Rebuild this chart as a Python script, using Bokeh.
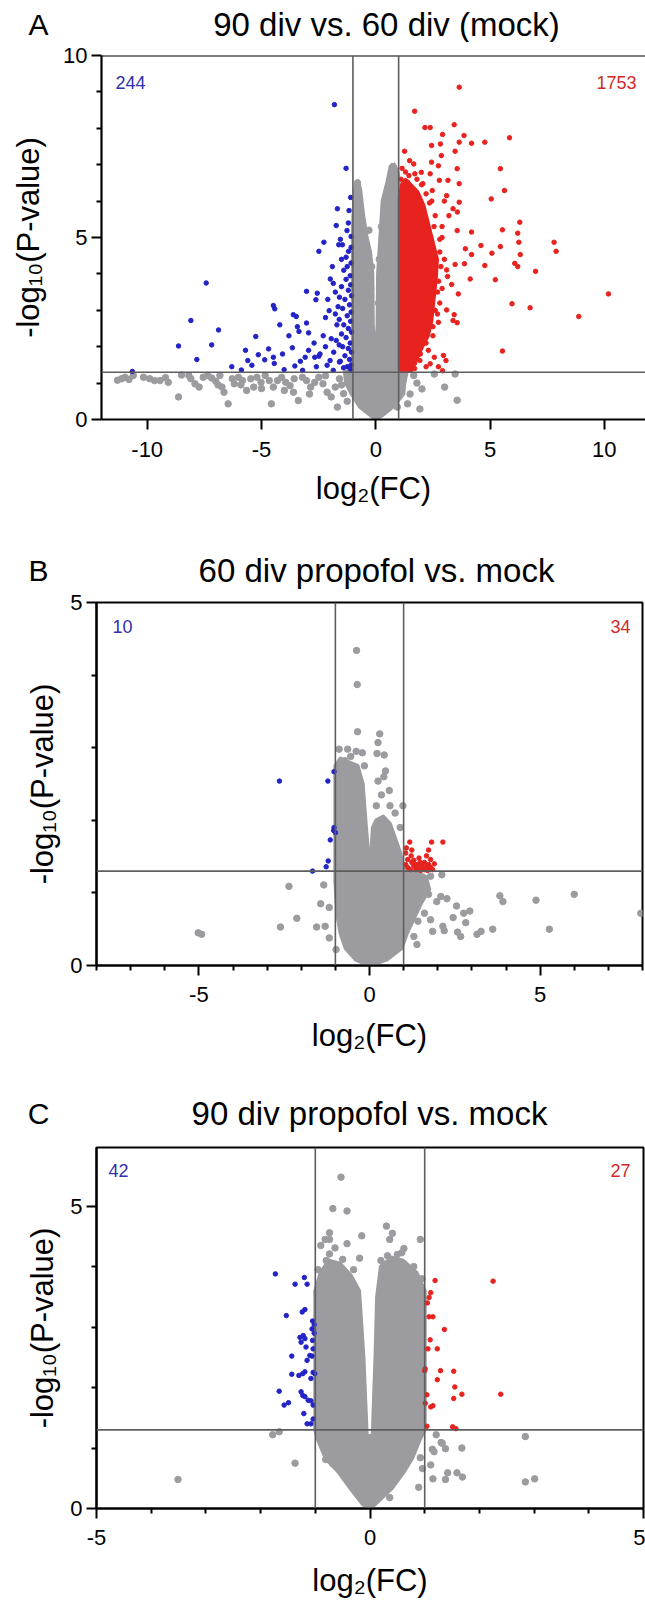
from math import pi
from bokeh.plotting import figure
from bokeh.models import FixedTicker, Span, Label, Range1d
from bokeh.layouts import column
from bokeh.embed import file_html
from bokeh.resources import INLINE

FONT = "Liberation Sans"
GRAY = "#9c9ca0"
RED = "#e8221f"
BLUE = "#2323c6"
LINE = "#5e5e5e"
BLUE_TXT = "#2f2fae"
RED_TXT = "#cf2a2a"

X_LABEL = "log\u2082(FC)"
Y_LABEL = "-log\u2081\u2080(P-value)"

# ---------------- Panel A : 90 div vs. 60 div (mock) ----------------
a_letter = "A"
a_title = "90 div vs. 60 div (mock)"
a_n_down = "244"
a_n_up = "1753"
a_xticks = [-10, -5, 0, 5, 10]
a_xminor = []
a_yticks = [0, 5, 10]
a_yminor = [1, 2, 3, 4, 6, 7, 8, 9]
a_core_gray_x = [0.0, -0.3, -0.7, -1.05, -1.3, -1.35, -1.0, -1.0, -0.95, -0.88, -0.78, -0.68, -0.55, -0.4, -0.25,
                 -0.15, -0.13, -0.05, 0.05, 0.08, 0.1, 0.2, 0.3, 0.5, 0.65, 0.8, 0.95, 1.0, 1.0, 1.35, 1.25, 1.2,
                 0.75, 0.35, 0.0]
a_core_gray_y = [0.0, 0.15, 0.35, 0.7, 1.0, 1.3, 1.35, 5.3, 5.9, 6.4, 6.55, 6.3, 5.6, 5.0, 4.6,
                 4.0, 2.6, 1.9, 1.9, 2.6, 4.0, 5.0, 6.0, 6.5, 6.95, 7.0, 6.8, 6.5, 1.35, 1.3, 1.0, 0.7,
                 0.35, 0.15, 0.0]
a_core_red_x = [1.03, 1.03, 1.12, 1.3, 1.55, 1.85, 2.1, 2.3, 2.5, 2.7, 2.65, 2.55, 2.45, 2.3, 2.05, 1.8, 1.55, 1.03]
a_core_red_y = [1.32, 6.1, 6.45, 6.6, 6.45, 6.25, 5.9, 5.4, 4.9, 4.4, 3.9, 3.3, 2.7, 2.3, 2.0, 1.65, 1.32, 1.32]
a_gray_pts = [
    (-11.3, 1.08), (-11.12, 1.12), (-10.97, 1.16), (-10.8, 1.10), (-10.61, 1.21), (-10.16, 1.16), (-9.89, 1.12),
    (-9.68, 1.07), (-9.44, 1.07), (-9.2, 1.15), (-9.08, 1.02), (-8.63, 0.62), (-8.5, 1.22), (-8.18, 1.21),
    (-8.09, 1.12), (-7.91, 0.98), (-7.73, 0.89), (-7.55, 1.16), (-7.36, 1.21), (-7.18, 1.14), (-7.0, 1.05),
    (-6.9, 0.95), (-6.82, 1.21), (-6.73, 0.89), (-6.64, 0.75), (-6.46, 0.43), (-6.28, 1.12), (-6.19, 0.98),
    (-6.01, 1.16), (-5.9, 0.95), (-5.83, 1.07), (-5.65, 0.80), (-5.47, 1.12), (-5.34, 0.89), (-5.2, 1.16),
    (-5.02, 1.02), (-5.0, 0.85), (-4.84, 1.21), (-4.66, 1.07), (-4.57, 0.43), (-4.48, 0.89), (-4.3, 1.07),
    (-4.12, 1.16), (-4.0, 0.80), (-3.94, 1.02), (-3.75, 0.93), (-3.6, 0.75), (-3.57, 1.12), (-3.39, 0.52),
    (-3.21, 1.16), (-3.03, 1.07), (-2.9, 0.70), (-2.85, 0.89), (-2.67, 1.02), (-2.49, 1.16), (-2.31, 0.98),
    (-2.2, 1.2), (-2.13, 0.75), (-1.95, 0.62), (-1.77, 0.89), (-1.68, 0.34), (-1.59, 1.12), (-1.5, 0.95),
    (-1.41, 0.71), (-1.25, 0.5),
    (1.21, 1.16), (1.66, 1.21), (2.02, 0.84), (2.56, 1.25), (3.01, 0.89), (3.47, 1.25), (3.56, 0.53),
    (1.39, 0.43), (1.93, 0.29), (0.94, 0.34), (1.5, 0.7), (1.1, 0.9), (1.8, 1.0),
    (-0.8, 6.5), (-0.85, 6.2), (-0.75, 5.9), (-0.9, 5.6), (-0.6, 5.3), (0.75, 6.95), (0.82, 6.75),
    (0.95, 6.6), (0.6, 6.45), (0.45, 6.1), (0.35, 5.7), (-0.18, 4.2), (-0.22, 3.6), (0.12, 3.2),
    (0.15, 4.4), (-0.3, 5.2), (0.25, 5.3),
]
a_blue_pts = [
    (-1.81, 8.65), (-1.30, 6.9), (-1.68, 5.79), (-1.17, 5.74), (-1.73, 5.33), (-1.26, 5.19), (-1.08, 5.03),
    (-2.27, 4.87), (-1.62, 4.80), (-1.46, 4.80), (-1.08, 4.73), (-2.49, 4.62), (-1.19, 4.62), (-1.30, 4.46),
    (-7.42, 3.75), (-8.09, 2.72), (-6.88, 2.46), (-7.18, 2.05), (-8.63, 2.02), (-7.83, 1.65), (-10.65, 1.32),
    (-3.03, 3.52), (-2.56, 3.47), (-2.62, 3.29), (-4.48, 3.13), (-4.42, 3.04), (-3.61, 2.88), (-3.48, 2.83),
    (-3.03, 2.65), (-3.43, 2.55), (-3.36, 2.42), (-2.94, 2.38), (-5.25, 2.28), (-3.65, 1.97), (-2.94, 1.90),
    (-2.49, 1.74), (-4.69, 1.94), (-5.14, 1.78), (-5.6, 1.62), (-4.08, 1.80), (-4.48, 1.71), (-4.86, 1.64),
    (-5.42, 1.49), (-5.88, 1.36), (-4.44, 1.54), (-4.01, 1.37), (-3.54, 1.47), (-3.09, 1.71), (-2.67, 1.71),
    (-2.44, 1.80), (-2.13, 1.49), (-1.99, 3.86), (-1.86, 3.74), (-1.77, 3.50), (-1.59, 3.36), (-2.04, 2.99),
    (-1.77, 2.90), (-1.95, 2.22), (-1.73, 2.17), (-1.84, 1.85), (-2.0, 1.62), (-1.59, 1.58), (-1.41, 1.42),
    (-1.86, 1.35), (-1.08, 4.3), (-1.25, 4.2), (-1.4, 4.1), (-1.12, 3.95), (-1.3, 3.85), (-1.1, 3.7),
    (-1.5, 3.65), (-1.2, 3.55), (-1.06, 3.4), (-1.35, 3.3), (-1.15, 3.15), (-1.45, 3.05), (-1.08, 2.95),
    (-1.25, 2.85), (-1.6, 2.75), (-1.1, 2.7), (-1.4, 2.6), (-1.2, 2.5), (-1.06, 2.4), (-1.5, 2.35),
    (-1.3, 2.25), (-1.12, 2.1), (-1.45, 2.0), (-1.2, 1.95), (-1.06, 1.85), (-1.35, 1.75), (-1.15, 1.65),
    (-1.55, 1.6), (-1.08, 1.5), (-1.25, 1.45), (-1.1, 1.38), (-1.6, 2.05), (-1.7, 2.6), (-1.65, 3.1),
    (-2.2, 2.8), (-2.3, 2.3), (-2.1, 3.3), (-1.9, 4.2), (-1.5, 4.4), (-1.2, 5.4), (-1.1, 6.1),
    (-1.55, 4.95), (-2.7, 2.1), (-2.2, 2.0), (-3.3, 1.6), (-3.8, 2.3), (-4.2, 2.6), (-5.7, 1.9),
    (-6.3, 1.45), (-3.2, 1.35), (-2.6, 1.45),
]
a_red_pts = [
    (3.65, 9.13), (1.70, 8.47), (2.15, 8.02), (2.38, 8.02), (3.43, 8.10), (2.92, 7.83), (3.86, 7.80),
    (5.85, 7.74), (2.44, 7.53), (2.83, 7.57), (3.65, 7.62), (4.19, 7.59), (4.77, 7.62), (1.26, 7.37),
    (3.47, 7.37), (2.87, 7.25), (1.48, 7.11), (2.44, 7.07), (1.66, 7.02), (1.99, 6.79), (2.74, 6.97),
    (3.56, 6.89), (5.45, 6.89), (1.71, 6.75), (2.38, 6.75), (1.39, 6.52), (2.06, 6.48), (2.78, 6.57),
    (3.16, 6.57), (3.65, 6.48), (2.47, 6.29), (5.63, 6.29), (5.05, 6.06), (3.10, 6.15), (3.65, 5.97),
    (3.38, 5.79), (3.57, 5.70), (6.30, 5.42), (5.54, 5.21), (4.19, 5.15), (3.56, 5.19), (6.21, 5.12),
    (7.80, 4.87), (4.60, 4.78), (5.45, 4.75), (6.26, 4.87), (5.08, 4.57), (6.32, 4.53), (7.89, 4.62),
    (4.19, 4.53), (3.92, 4.69), (3.47, 4.26), (3.88, 4.28), (4.77, 4.23), (6.08, 4.29), (6.21, 4.20),
    (6.99, 4.07), (3.10, 4.11), (3.14, 3.93), (4.13, 3.86), (5.23, 3.84), (3.32, 3.71), (3.61, 3.45),
    (10.18, 3.45), (5.96, 3.18), (6.75, 3.07), (8.88, 2.83), (3.10, 3.01), (3.43, 2.88), (3.38, 2.72),
    (3.56, 2.66), (2.74, 2.67), (5.54, 1.88), (2.96, 1.76), (3.07, 1.62), (2.56, 1.71), (2.74, 1.45),
    (2.92, 1.34), (2.38, 1.53), (1.93, 1.62), (2.9, 5.0), (2.8, 4.6), (3.0, 4.4), (2.6, 5.6), (2.9, 5.3),
    (2.45, 6.0), (1.1, 6.6), (1.3, 6.8), (1.8, 6.6), (2.2, 6.2), (2.9, 3.6), (2.8, 3.2), (2.7, 2.9),
    (2.5, 2.3), (2.3, 1.9), (2.2, 1.45), (1.7, 1.4), (3.2, 5.6), (3.0, 6.0), (2.6, 4.0), (2.75, 3.8),
    (1.15, 6.9), (1.45, 6.7), (2.0, 6.45), (2.35, 5.95), (2.55, 5.3), (2.8, 4.95), (2.85, 4.2), (2.7, 3.5),
    (2.6, 3.0), (2.5, 2.55), (2.2, 2.1), (1.95, 1.8), (1.7, 1.55),
]

# ---------------- Panel B : 60 div propofol vs. mock ----------------
b_letter = "B"
b_title = "60 div propofol vs. mock"
b_n_down = "10"
b_n_up = "34"
b_xticks = [-5, 0, 5]
b_xminor = [-8, -7, -6, -4, -3, -2, -1, 1, 2, 3, 4, 6, 7, 8]
b_yticks = [0, 5]
b_yminor = [1, 2, 3, 4]
b_core_gray_x = [0.0, -0.4, -0.7, -0.85, -0.94, -1.0, -1.0, -0.85, -0.6, -0.35, -0.2, -0.12, -0.05, 0.06, 0.1,
                 0.2, 0.4, 0.6, 0.75, 0.9, 1.0, 1.4, 1.65, 1.75, 1.5, 1.35, 1.1, 0.94, 0.5, 0.0]
b_core_gray_y = [0.0, 0.08, 0.24, 0.45, 0.7, 1.16, 2.75, 2.85, 2.8, 2.75, 2.5, 2.0, 1.6, 1.6, 1.9,
                 2.0, 2.05, 1.95, 1.75, 1.55, 1.3, 1.28, 1.22, 1.05, 0.85, 0.7, 0.45, 0.24, 0.08, 0.0]
b_gray_pts = [
    (-0.38, 4.34), (-0.36, 3.87), (-0.35, 3.22), (0.30, 3.19), (0.25, 3.07), (-0.89, 2.98), (-0.64, 2.98),
    (-0.39, 2.95), (-0.21, 2.93), (0.22, 2.92), (0.43, 2.90), (-0.72, 2.82), (0.47, 2.68), (0.42, 2.60),
    (-0.94, 2.60), (0.25, 2.54), (0.58, 2.41), (0.98, 2.20), (-0.55, 2.88), (-0.15, 2.75), (0.35, 2.35),
    (0.75, 2.10), (0.9, 1.9), (0.2, 2.2), (0.6, 2.2),
    (-5.02, 0.45), (-4.92, 0.43), (-2.61, 0.53), (-2.13, 0.65), (-2.36, 1.09), (-1.34, 1.11), (-1.43, 0.85),
    (-1.55, 0.53), (-1.30, 0.54), (-1.18, 0.80), (-1.18, 0.38), (-0.98, 0.22), (1.73, 0.98), (1.97, 0.88),
    (2.09, 0.95), (2.27, 0.92), (1.85, 0.47), (1.79, 0.63), (1.61, 0.72), (2.15, 0.54), (2.19, 0.48),
    (2.45, 0.66), (2.55, 0.82), (2.76, 0.72), (2.94, 0.75), (2.82, 0.59), (2.58, 0.46), (2.67, 0.40),
    (3.15, 0.43), (3.27, 0.47), (3.61, 0.50), (3.82, 0.96), (3.91, 0.88), (4.88, 0.90), (5.27, 0.50),
    (6.0, 0.98), (7.95, 0.72), (1.42, 0.61), (1.39, 0.29), (1.79, 1.23), (2.12, 1.25), (1.5, 1.0), (1.3, 0.4),
]
b_blue_pts = [
    (-2.64, 2.54), (-1.22, 2.54), (-1.04, 2.67), (-1.04, 1.90), (-1.0, 1.83), (-1.15, 1.73), (-1.21, 1.44),
    (-1.27, 1.36), (-1.67, 1.30), (-1.05, 1.86),
]
b_red_pts = [
    (1.18, 1.70), (1.24, 1.59), (1.22, 1.51), (1.12, 1.46), (1.24, 1.42), (1.36, 1.39), (1.48, 1.42),
    (1.61, 1.42), (1.73, 1.39), (1.79, 1.46), (1.67, 1.51), (1.73, 1.59), (1.82, 1.70), (2.15, 1.70),
    (1.06, 1.39), (1.30, 1.37), (1.42, 1.37), (1.55, 1.39), (1.67, 1.35), (1.79, 1.35), (1.85, 1.32),
    (1.61, 1.32), (1.36, 1.32), (1.12, 1.35), (1.06, 1.55), (1.3, 1.45), (1.45, 1.48), (1.55, 1.34),
    (1.9, 1.4), (1.08, 1.62), (1.4, 1.34), (1.2, 1.32), (1.5, 1.31), (1.7, 1.31),
]

# ---------------- Panel C : 90 div propofol vs. mock ----------------
c_letter = "C"
c_title = "90 div propofol vs. mock"
c_n_down = "42"
c_n_up = "27"
c_xticks = [-5, 0, 5]
c_xminor = [-4, -3, -2, -1, 1, 2, 3, 4]
c_yticks = [0, 5]
c_yminor = [1, 2, 3, 4]
c_core_gray_x = [0.0, -0.13, -0.36, -0.58, -0.81, -0.96, -1.0, -1.0, -0.9, -0.75, -0.55, -0.35, -0.2, -0.12, -0.06,
                 0.05, 0.1, 0.13, 0.2, 0.4, 0.6, 0.85, 1.0, 1.0, 0.92, 0.77, 0.62, 0.4, 0.09, 0.0]
c_core_gray_y = [0.0, 0.07, 0.34, 0.61, 0.83, 1.16, 1.3, 3.6, 3.9, 4.1, 4.05, 3.85, 3.6, 2.5, 1.2,
                 1.2, 2.5, 3.5, 4.0, 4.15, 4.1, 3.9, 3.6, 1.3, 1.16, 0.83, 0.61, 0.34, 0.07, 0.0]
c_gray_pts = [
    (-0.53, 5.48), (-0.68, 4.96), (-0.42, 4.92), (-0.74, 4.56), (-0.82, 4.45), (-0.74, 4.45), (-0.90, 4.35),
    (-0.64, 4.31), (-0.42, 4.38), (-0.15, 4.51), (0.30, 4.67), (0.41, 4.55), (0.36, 4.45), (0.92, 4.45),
    (0.62, 4.30), (0.58, 4.23), (0.32, 4.18), (-0.19, 4.14), (-0.74, 4.21), (-0.95, 3.95), (-0.8, 4.1),
    (-0.5, 4.12), (0.2, 4.1), (0.5, 4.2), (0.8, 4.0), (0.95, 3.8), (-0.3, 3.95),
    (-1.78, 1.22), (-1.66, 1.27), (1.21, 1.22), (1.30, 1.09), (1.14, 0.98), (1.38, 0.99), (1.68, 1.00),
    (2.84, 1.19), (-3.51, 0.48), (-1.37, 0.75), (-0.81, 0.81), (-0.68, 0.74), (1.32, 1.08), (1.17, 0.94),
    (1.11, 0.72), (1.15, 0.49), (1.38, 0.48), (1.59, 0.59), (1.69, 0.52), (1.42, 0.59), (0.96, 0.66),
    (0.89, 0.35), (2.84, 0.44), (3.01, 0.49), (0.92, 0.84), (0.36, 0.18),
]
c_blue_pts = [
    (-1.73, 3.88), (-1.20, 3.82), (-1.37, 3.71), (-1.15, 3.71), (-1.19, 3.29), (-1.24, 3.25), (-1.53, 3.19),
    (-1.02, 3.04), (-1.06, 2.97), (-1.28, 2.83), (-1.22, 2.86), (-1.19, 2.81), (-1.05, 2.78), (-1.26, 2.75),
    (-1.17, 2.67), (-1.04, 2.64), (-1.43, 2.52), (-1.06, 2.52), (-1.15, 2.45), (-1.10, 2.53), (-1.19, 2.26),
    (-1.23, 2.23), (-1.43, 2.22), (-1.04, 2.25), (-1.08, 2.15), (-1.01, 2.23), (-1.66, 1.94), (-1.26, 1.93),
    (-1.23, 1.87), (-1.19, 1.85), (-1.13, 1.79), (-1.08, 1.78), (-1.04, 1.71), (-1.49, 1.75), (-1.57, 1.71),
    (-1.21, 1.57), (-1.15, 1.40), (-1.08, 1.40), (-1.04, 1.48), (-1.02, 2.9), (-1.05, 3.1), (-1.3, 2.2),
]
c_red_pts = [
    (1.19, 3.77), (2.25, 3.76), (1.11, 3.57), (1.08, 3.49), (1.08, 3.17), (1.15, 3.17), (1.36, 2.96),
    (1.10, 2.79), (1.06, 2.64), (1.23, 2.64), (1.01, 2.31), (1.0, 2.28), (1.29, 2.28), (1.53, 2.27),
    (1.23, 2.13), (1.55, 2.01), (2.39, 1.89), (1.68, 1.89), (1.53, 1.82), (1.04, 1.88), (1.01, 1.74),
    (1.15, 1.70), (1.11, 1.68), (1.04, 1.36), (1.51, 1.35), (1.57, 1.32), (1.05, 3.4),
]

FC_CUT = 1.0
P_CUT = 1.3

HEAD_LEFT = 101
HEAD_RIGHT = 3

panels = [
    dict(letter=a_letter, title=a_title, n_down=a_n_down, n_up=a_n_up,
         xticks=a_xticks, xminor=a_xminor, yticks=a_yticks, yminor=a_yminor,
         core_gray=(a_core_gray_x, a_core_gray_y), core_red=(a_core_red_x, a_core_red_y),
         gray=a_gray_pts, blue=a_blue_pts, red=a_red_pts,
         xr=(-12, 11.8), yr=(0, 10), head=42, head_y=23.5, title_x=386, letter_standoff=53,
         height=488, top=13, bottom=111, left=101, right=0, outline=False,
         down_xy=(115, 27), up_xy=(636, 27), ylab_standoff=14, xlab_standoff=11, xtick_standoff=12),
    dict(letter=b_letter, title=b_title, n_down=b_n_down, n_up=b_n_up,
         xticks=b_xticks, xminor=b_xminor, yticks=b_yticks, yminor=b_yminor,
         core_gray=(b_core_gray_x, b_core_gray_y), core_red=None,
         gray=b_gray_pts, blue=b_blue_pts, red=b_red_pts,
         xr=(-8, 8), yr=(0, 5), head=59, head_y=40, title_x=376, letter_standoff=53,
         height=489, top=13, bottom=113, left=96, right=3, outline=True,
         down_xy=(112, 24), up_xy=(630, 24), ylab_standoff=7, xlab_standoff=13, xtick_standoff=11),
    dict(letter=c_letter, title=c_title, n_down=c_n_down, n_up=c_n_up,
         xticks=c_xticks, xminor=c_xminor, yticks=c_yticks, yminor=c_yminor,
         core_gray=(c_core_gray_x, c_core_gray_y), core_red=None,
         gray=c_gray_pts, blue=c_blue_pts, red=c_red_pts,
         xr=(-5, 5), yr=(0, 5.97), head=56, head_y=35, title_x=369, letter_standoff=52,
         height=466, top=13, bottom=90, left=96, right=2, outline=True,
         down_xy=(108, 23), up_xy=(630, 23), ylab_standoff=7, xlab_standoff=15, xtick_standoff=11),
]


def header(cfg):
    h = cfg["head"]
    p = figure(width=645, height=h, x_range=Range1d(HEAD_LEFT, 645 - HEAD_RIGHT), y_range=Range1d(h, 0),
               x_axis_type=None, output_backend="svg", toolbar_location=None,
               min_border_left=HEAD_LEFT, min_border_right=HEAD_RIGHT, min_border_top=0, min_border_bottom=0,
               background_fill_color="white", border_fill_color="white")
    p.grid.visible = False
    p.outline_line_color = None
    # panel letter, written as the only tick label of a bare left axis
    ly = cfg["head_y"]
    ax = p.yaxis[0]
    ax.ticker = FixedTicker(ticks=[ly], minor_ticks=[])
    ax.major_label_overrides = {ly: cfg["letter"]}
    ax.axis_line_color = None
    ax.major_tick_line_color = None
    ax.minor_tick_line_color = None
    ax.major_tick_out = 0
    ax.major_tick_in = 0
    ax.minor_tick_out = 0
    ax.minor_tick_in = 0
    ax.major_label_standoff = cfg["letter_standoff"]
    ax.major_label_orientation = "horizontal"
    ax.major_label_text_font = FONT
    ax.major_label_text_font_size = "30px"
    ax.major_label_text_color = "black"
    p.add_layout(Label(x=cfg["title_x"], y=ly, text=cfg["title"], text_font=FONT, text_font_size="33px",
                       text_color="black", text_align="center", text_baseline="middle"))
    return p


def build(cfg):
    x0, x1 = cfg["xr"]
    y0, y1 = cfg["yr"]
    fw = 645 - cfg["left"] - cfg["right"]
    fh = cfg["height"] - cfg["top"] - cfg["bottom"]
    p = figure(width=645, height=cfg["height"], x_range=Range1d(x0, x1), y_range=Range1d(y0, y1),
               output_backend="svg", toolbar_location=None,
               min_border_left=cfg["left"], min_border_right=cfg["right"],
               min_border_top=cfg["top"], min_border_bottom=cfg["bottom"],
               background_fill_color="white", border_fill_color="white")
    p.grid.visible = False
    if cfg["outline"]:
        p.outline_line_color = "black"
        p.outline_line_width = 2
    else:
        p.outline_line_color = None
        p.add_layout(Span(location=y1, dimension="width", line_color="black", line_width=2))
    for ax, ticks, minors in ((p.xaxis[0], cfg["xticks"], cfg["xminor"]),
                              (p.yaxis[0], cfg["yticks"], cfg["yminor"])):
        ax.ticker = FixedTicker(ticks=ticks, minor_ticks=minors)
        ax.major_label_overrides = {t: str(t) for t in ticks}
        ax.axis_line_width = 2.2
        ax.axis_line_color = "black"
        ax.major_tick_line_width = 2
        ax.minor_tick_line_width = 2
        ax.major_tick_out = 10
        ax.major_tick_in = 0
        ax.minor_tick_out = 5
        ax.minor_tick_in = 0
        ax.major_label_text_font = FONT
        ax.major_label_text_font_size = "22px"
        ax.major_label_text_color = "black"
        ax.axis_label_text_font = FONT
        ax.axis_label_text_font_size = "31px"
        ax.axis_label_text_font_style = "normal"
        ax.axis_label_text_color = "black"
    p.xaxis[0].major_label_standoff = cfg["xtick_standoff"]
    p.yaxis[0].major_label_standoff = 4
    p.xaxis[0].axis_label = X_LABEL
    p.yaxis[0].axis_label = Y_LABEL
    p.xaxis[0].axis_label_standoff = cfg["xlab_standoff"]
    p.yaxis[0].axis_label_standoff = cfg["ylab_standoff"]

    cx, cy = cfg["core_gray"]
    p.patch(cx, cy, fill_color=GRAY, line_color=GRAY, line_width=4, line_join="round")
    gx = [v[0] for v in cfg["gray"]]
    gy = [v[1] for v in cfg["gray"]]
    p.scatter(gx, gy, size=6.5, color=GRAY)
    bx = [v[0] for v in cfg["blue"]]
    by = [v[1] for v in cfg["blue"]]
    p.scatter(bx, by, size=4.5, color=BLUE)
    if cfg["core_red"] is not None:
        rx0, ry0 = cfg["core_red"]
        p.patch(rx0, ry0, fill_color=RED, line_color=RED, line_width=3, line_join="round")
    rx = [v[0] for v in cfg["red"]]
    ry = [v[1] for v in cfg["red"]]
    p.scatter(rx, ry, size=4.5, color=RED)

    for loc in (-FC_CUT, FC_CUT):
        p.add_layout(Span(location=loc, dimension="height", line_color=LINE, line_width=1.6))
    p.add_layout(Span(location=P_CUT, dimension="width", line_color=LINE, line_width=1.6))

    def dx(px):
        return x0 + (px - cfg["left"]) * (x1 - x0) / fw

    def dy(py):
        return y1 - py * (y1 - y0) / fh

    for xy, text, color, align in ((cfg["down_xy"], cfg["n_down"], BLUE_TXT, "left"),
                                   (cfg["up_xy"], cfg["n_up"], RED_TXT, "right")):
        p.add_layout(Label(x=dx(xy[0]), y=dy(xy[1]), text=text, text_font=FONT,
                           text_font_size="18px", text_color=color, text_align=align,
                           text_baseline="middle"))
    return p


figs = []
for c in panels:
    figs.append(column(header(c)))
    figs.append(column(build(c)))
layout = column(*figs, spacing=0)
open("out.html", "w").write(file_html(layout, INLINE))
